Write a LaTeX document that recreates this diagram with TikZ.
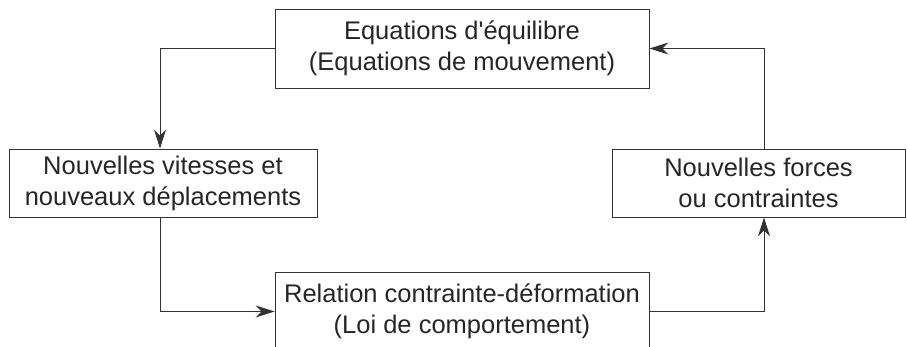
\documentclass[tikz,border=0pt]{standalone}
\usepackage{fontspec}
\setmainfont{Liberation Sans}
\usetikzlibrary{arrows.meta, positioning}
\tikzset{
  bloc/.style={draw=black!80, line width=0.9pt, text=black!85, align=center,
    font=\fontsize{25.5}{31}\selectfont, inner sep=0pt},
  flow/.style={draw=black!80, line width=0.9pt,
    -{Stealth[length=19pt, width=12pt, inset=6pt]}}}

\begin{document}
\begin{tikzpicture}[x=1pt, y=-1pt]
	\useasboundingbox (0,0) rectangle (907,347);
	\node[bloc, minimum width=374pt, minimum height=79pt] (eq) at (462,48.5) {Equations d\textquotesingle équilibre\\(Equations de mouvement)};
	\node[bloc, minimum width=308pt, minimum height=68pt] (vit) at (163,183) {Nouvelles vitesses et\\nouveaux déplacements};
	\node[bloc, minimum width=293pt, minimum height=68pt] (forc) at (758.5,183) {Nouvelles forces\\ou contraintes};
	\node[bloc, minimum width=374pt, minimum height=79pt] (rel) at (462,311.5) {Relation contrainte-déformation\\(Loi de comportement)};
\draw[flow] (eq.west) -| ([xshift=-3pt]vit.north);
\draw[flow] ([xshift=-3pt]vit.south) |- (rel.west);
\draw[flow] (rel.east) -| ([xshift=5.5pt]forc.south);
\draw[flow] ([xshift=5.5pt]forc.north) |- (eq.east);
\end{tikzpicture}
\end{document}
